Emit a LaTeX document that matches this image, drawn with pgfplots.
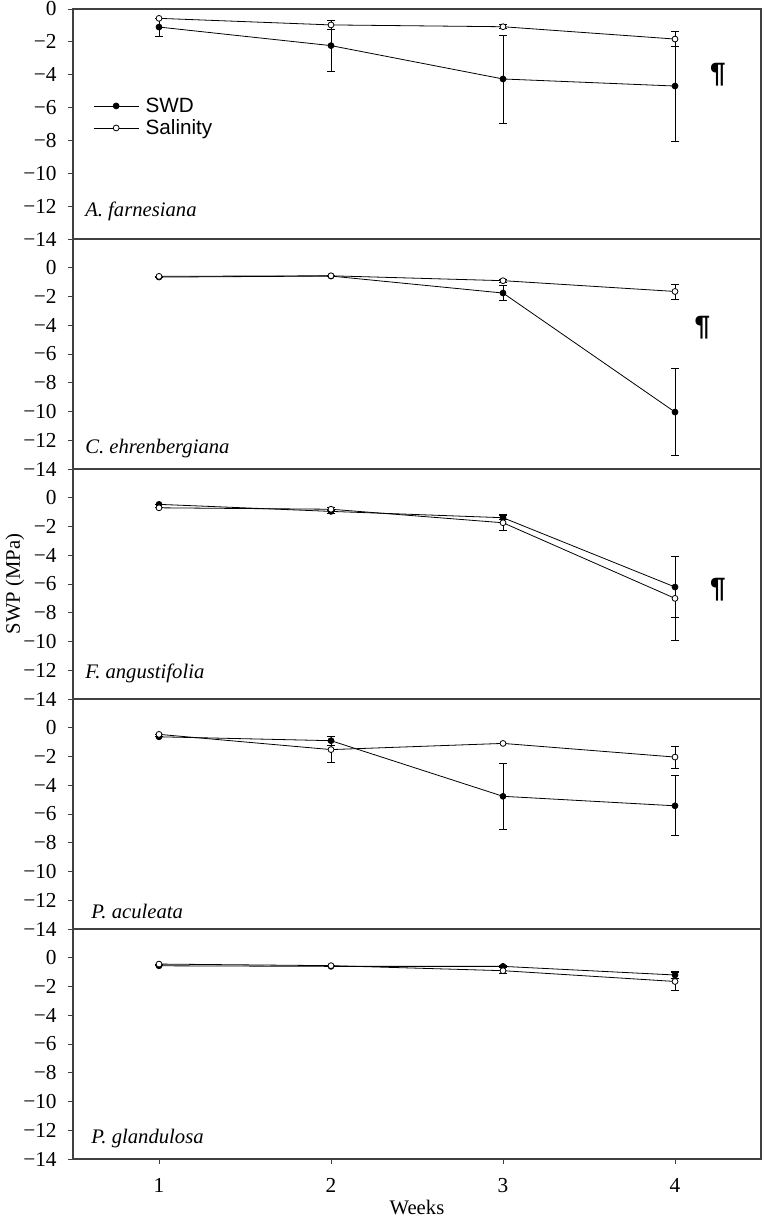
\documentclass[border=0pt]{standalone}
\usepackage{pgfplots}
\pgfplotsset{compat=1.18}
\usepackage{fontspec}
\setmainfont{Liberation Serif}
\newfontfamily\arialfont{Liberation Sans}
\newfontfamily\tickfont{Liberation Serif}
\tikzset{
  spec/.style={anchor=west, font=\fontsize{15.5}{18}\selectfont\itshape},
  pil/.style={font=\arialfont\bfseries\fontsize{21}{22}\selectfont},
}
\begin{document}
\begin{tikzpicture}[font=\fontsize{15.5}{18}\selectfont]
\pgfplotsset{
  panel/.style={
    scale only axis, width=516pt, height=172.5pt,
    xmin=0.5, xmax=4.5, ymin=-14, ymax=2,
    ytick={-14,-12,...,0},
    yticklabels={{\tickfont −14},{\tickfont −12},{\tickfont −10},{\tickfont −8},{\tickfont −6},{\tickfont −4},{\tickfont −2},{\tickfont 0}},
    /pgf/number format/assume math mode=true,
    every tick label/.append style={font=\tickfont\fontsize{16}{18}\selectfont},
    label style={font=\fontsize{15.5}{18}\selectfont},
    every y tick label/.append style={xshift=-5pt},
    xtick=\empty,
    tick align=outside, ytick pos=left, xtick pos=bottom,
    major tick length=3.75pt,
    axis line style={black!75, line width=0.8pt},
    tick style={black!75, line width=0.6pt},
    clip=false,
  },
  swd/.style={black, line width=0.6pt, mark=*, mark size=2.2pt, mark options={fill=black, draw=black, solid},
    error bars/.cd, y dir=both, y explicit, error bar style={line width=0.6pt, black}, error mark options={rotate=90, mark size=3pt, line width=0.6pt, black}},
  sal/.style={black, line width=0.6pt, mark=*, mark size=2.2pt, mark options={fill=white, draw=black, solid},
    error bars/.cd, y dir=both, y explicit, error bar style={line width=0.6pt, black}, error mark options={rotate=90, mark size=3pt, line width=0.6pt, black}},
}
% Panel 1
\begin{axis}[panel, name=p1, at={(0,690pt)}, anchor=south west, ymax=0,
  legend cell align=left,
  legend style={draw=none, fill=none, at={(rel axis cs:0.029,0.530)}, anchor=west, inner sep=0pt,
    font=\arialfont\fontsize{15.5}{18}\selectfont, row sep=0pt,
    /tikz/every odd column/.append style={column sep=3pt}},
  legend image code/.code={\draw[mark repeat=2,mark phase=2,#1] plot coordinates {(0pt,0pt) (16.9pt,0pt) (33.75pt,0pt)};},
]
\addplot[swd] table[x=x, y=y, y error=e] {
x y e
1 -1.10 0.55
2 -2.23 1.54
3 -4.26 2.68
4 -4.69 3.35
};
\addplot[sal] table[x=x, y=y, y error=e] {
x y e
1 -0.57 0.00
2 -0.97 0.28
3 -1.08 0.12
4 -1.83 0.47
};
\legend{SWD, Salinity}
\node[spec] at (rel axis cs:0.011,0.118) {A. farnesiana};
\node[pil] at (axis cs:4.25,-4.0) {¶};
\end{axis}
% Panel 2
\begin{axis}[panel, name=p2, at={(0,517.5pt)}, anchor=south west]
\addplot[swd] table[x=x, y=y, y error=e] {
x y e
1 -0.65 0.00
2 -0.58 0.00
3 -1.76 0.50
4 -10.04 3.03
};
\addplot[sal] table[x=x, y=y, y error=e] {
x y e
1 -0.60 0.00
2 -0.56 0.00
3 -0.90 0.10
4 -1.65 0.52
};
\node[spec] at (rel axis cs:0.011,0.087) {C. ehrenbergiana};
\node[pil] at (axis cs:4.16,-4.17) {¶};
\end{axis}
% Panel 3
\begin{axis}[panel, name=p3, at={(0,345pt)}, anchor=south west]
\addplot[swd] table[x=x, y=y, y error=e] {
x y e
1 -0.46 0.00
2 -0.95 0.15
3 -1.39 0.15
4 -6.21 2.10
};
\addplot[sal] table[x=x, y=y, y error=e] {
x y e
1 -0.70 0.00
2 -0.80 0.10
3 -1.74 0.55
4 -7.00 2.95
};
\node[spec] at (rel axis cs:0.011,0.113) {F. angustifolia};
\node[pil] at (axis cs:4.25,-6.42) {¶};
\end{axis}
% Panel 4
\begin{axis}[panel, name=p4, at={(0,172.5pt)}, anchor=south west]
\addplot[swd] table[x=x, y=y, y error=e] {
x y e
1 -0.63 0.00
2 -0.90 0.30
3 -4.77 2.32
4 -5.43 2.09
};
\addplot[sal] table[x=x, y=y, y error=e] {
x y e
1 -0.46 0.00
2 -1.52 0.92
3 -1.09 0.00
4 -2.04 0.76
};
\node[spec] at (rel axis cs:0.02,0.078) {P. aculeata};
\end{axis}
% Panel 5
\begin{axis}[panel, name=p5, at={(0,0pt)}, anchor=south west,
  xtick={1,2,3,4}, xticklabels={1,2,3,4}, xticklabel style={yshift=-7pt},
  xlabel={Weeks}, xlabel style={at={(axis description cs:0.5,0)}, anchor=center, yshift=-36pt}]
\addplot[swd] table[x=x, y=y, y error=e] {
x y e
1 -0.56 0.00
2 -0.60 0.00
3 -0.60 0.10
4 -1.20 0.25
};
\addplot[sal] table[x=x, y=y, y error=e] {
x y e
1 -0.44 0.00
2 -0.55 0.00
3 -0.90 0.20
4 -1.65 0.60
};
\node[spec] at (rel axis cs:0.02,0.091) {P. glandulosa};
\end{axis}
\node[rotate=90, anchor=center] at (-43.5pt,431.25pt) {SWP (MPa)};
\pgfresetboundingbox
\path[use as bounding box] (-54.75pt,-43.5pt) rectangle (518.25pt,869.25pt);
\end{tikzpicture}
\end{document}
